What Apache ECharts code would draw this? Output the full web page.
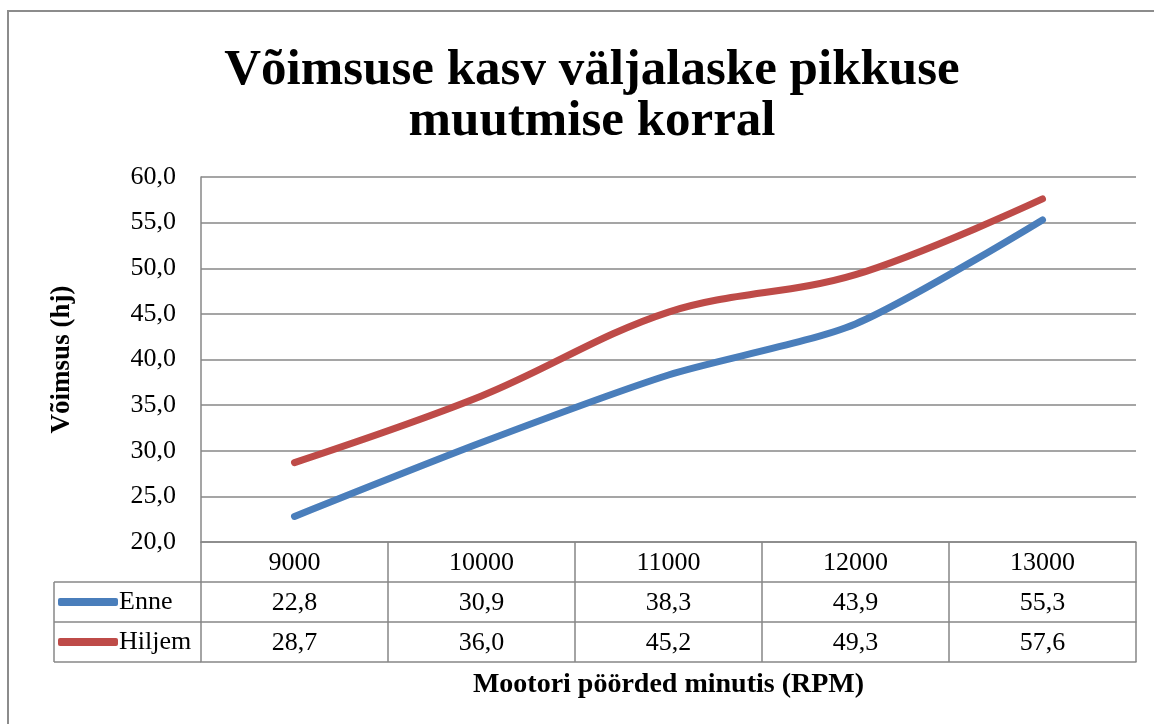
<!DOCTYPE html>
<html>
<head>
<meta charset="utf-8">
<script src="https://cdn.jsdelivr.net/npm/echarts@6/dist/echarts.min.js"></script>
<style>
  html, body { margin: 0; padding: 0; background: #fff; }
  #main { width: 1154px; height: 724px; }
</style>
</head>
<body>
<div id="main"></div>
<script>
// andmed
var rpm = ['9000', '10000', '11000', '12000', '13000'];
var enne = [22.8, 30.9, 38.3, 43.9, 55.3];
var hiljem = [28.7, 36.0, 45.2, 49.3, 57.6];
var seriesNames = ['Enne', 'Hiljem'];

var FONT = '"Liberation Serif", "DejaVu Serif", serif';
var gridColor = '#878787';

function fmt(v) {
    return Number(v).toFixed(1).replace('.', ',');
}

var myChart = echarts.init(document.getElementById('main'));

// tabeli read x-telgedena
function tableAxis(offset, values, showName) {
    return {
        type: 'category',
        position: 'bottom',
        offset: offset,
        data: rpm,
        boundaryGap: true,
        axisLine: { show: true, lineStyle: { color: gridColor, width: 1.5 } },
        axisTick: { show: !showName, length: 40, lineStyle: { color: gridColor, width: 1.5 } },
        axisLabel: {
            show: !showName,
            margin: 8,
            fontFamily: FONT,
            fontSize: 26,
            color: '#000',
            formatter: function (val, idx) { return values[idx]; }
        },
        splitLine: { show: false },
        name: showName ? 'Mootori pöörded minutis (RPM)' : '',
        nameLocation: 'middle',
        nameGap: 9,
        nameTextStyle: { fontFamily: FONT, fontSize: 28, fontWeight: 'bold', color: '#000', verticalAlign: 'top' }
    };
}

var option = {
    backgroundColor: '#fff',
    animation: false,
    title: {
        text: 'Võimsuse kasv väljalaske pikkuse\nmuutmise korral',
        left: 587,
        top: 40,
        textAlign: 'center',
        textStyle: {
            fontFamily: FONT,
            fontSize: 51,
            fontWeight: 'bold',
            color: '#000',
            lineHeight: 51
        }
    },
    legend: {
        data: seriesNames,
        orient: 'vertical',
        left: 58,
        top: 588,
        padding: 0,
        itemWidth: 60,
        itemHeight: 8,
        itemGap: 12,
        icon: 'roundRect',
        textStyle: { fontFamily: FONT, fontSize: 26, color: '#000', lineHeight: 28, padding: [0, 0, 0, -4] }
    },
    grid: {
        left: 201,
        right: 18,
        top: 177,
        bottom: 182,
        containLabel: false
    },
    xAxis: [
        tableAxis(0, rpm, false),
        tableAxis(40, enne.map(fmt), false),
        tableAxis(80, hiljem.map(fmt), false),
        tableAxis(120, rpm, true)
    ],
    yAxis: {
        type: 'value',
        min: 20,
        max: 60,
        interval: 5,
        axisLine: { show: true, lineStyle: { color: gridColor, width: 1.5 } },
        axisTick: { show: false },
        axisLabel: {
            margin: 25,
            fontFamily: FONT,
            fontSize: 26,
            color: '#000',
            formatter: fmt
        },
        splitLine: { show: true, lineStyle: { color: gridColor, width: 1.5 } },
        name: 'Võimsus (hj)',
        nameLocation: 'middle',
        nameRotate: 90,
        nameGap: 125,
        nameTextStyle: { fontFamily: FONT, fontSize: 27, fontWeight: 'bold', color: '#000' }
    },
    series: [{
        name: 'Enne',
        type: 'line',
        data: enne,
        smooth: 0.25,
        showSymbol: false,
        color: '#4a7ebb',
        lineStyle: { width: 7, color: '#4a7ebb', cap: 'round', join: 'round' }
    }, {
        name: 'Hiljem',
        type: 'line',
        data: hiljem,
        smooth: 0.35,
        showSymbol: false,
        color: '#be4b48',
        lineStyle: { width: 7, color: '#be4b48', cap: 'round', join: 'round' }
    }],
    graphic: [
        // välimine raam
        { type: 'rect', shape: { x: 8, y: 11, width: 1300, height: 900 }, style: { fill: null, stroke: '#8c8c8c', lineWidth: 2 }, silent: true },
        // legendi veeru jooned
        { type: 'line', shape: { x1: 54, y1: 582, x2: 201, y2: 582 }, style: { stroke: gridColor, lineWidth: 1.5 } },
        { type: 'line', shape: { x1: 54, y1: 622, x2: 201, y2: 622 }, style: { stroke: gridColor, lineWidth: 1.5 } },
        { type: 'line', shape: { x1: 54, y1: 662, x2: 201, y2: 662 }, style: { stroke: gridColor, lineWidth: 1.5 } },
        { type: 'line', shape: { x1: 54, y1: 582, x2: 54, y2: 662 }, style: { stroke: gridColor, lineWidth: 1.5 } }
    ]
};

myChart.setOption(option);
</script>
</body>
</html>
